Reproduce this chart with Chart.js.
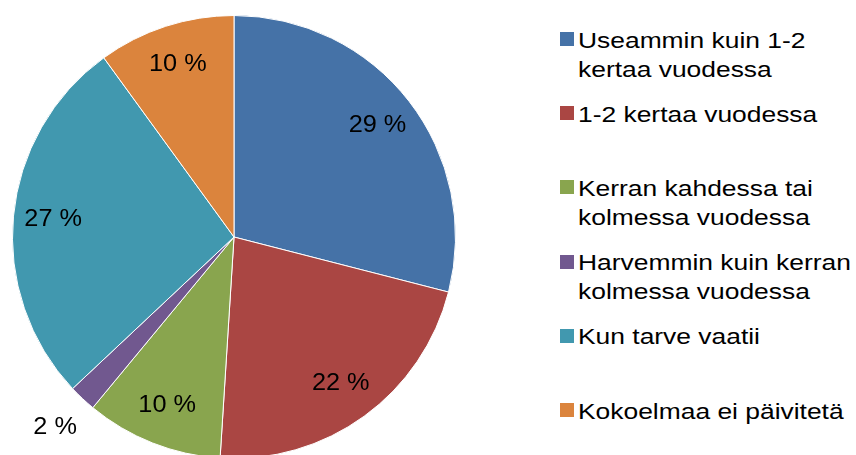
<!DOCTYPE html>
<html>
<head>
<meta charset="utf-8">
<script src="https://cdn.jsdelivr.net/npm/chart.js@4/dist/chart.umd.min.js"></script>
<style>
  html, body { margin: 0; padding: 0; background: #fff; overflow: hidden; }
  body { width: 856px; height: 455px; position: relative; font-family: "Liberation Sans", Arial, sans-serif; }
  #chartBox { position: absolute; left: 0; top: 0; width: 468px; height: 474px; }
  .item { position: absolute; left: 560px; }
  .box { position: absolute; left: 0; width: 14px; height: 14px; }
  .txt { position: absolute; left: 18px; top: 0; font-size: 22px; line-height: 29px; white-space: nowrap;
         color: #000; transform: scaleX(1.2); transform-origin: 0 0; }
</style>
</head>
<body>
<div id="chartBox"><canvas id="pieChart"></canvas></div>
<div id="legend"></div>
<script>
// categories (legend lines), values in percent, slice colours
const categories = [
    ['Useammin kuin 1-2', 'kertaa vuodessa'],
    ['1-2 kertaa vuodessa'],
    ['Kerran kahdessa tai', 'kolmessa vuodessa'],
    ['Harvemmin kuin kerran', 'kolmessa vuodessa'],
    ['Kun tarve vaatii'],
    ['Kokoelmaa ei päivitetä']
];
const values = [29, 22, 10, 2, 27, 10];
const colors = ['#4572A7', '#AA4643', '#89A54E', '#71588F', '#4198AF', '#DB843D'];

document.addEventListener('DOMContentLoaded', function() {
    // percent labels drawn on (or just outside) each slice
    const pctLabels = {
        id: 'pctLabels',
        afterDatasetsDraw(chart) {
            const ctx = chart.ctx;
            const meta = chart.getDatasetMeta(0);
            ctx.save();
            ctx.fillStyle = '#000';
            ctx.font = '23px "Liberation Sans", Arial, sans-serif';
            ctx.textAlign = 'center';
            ctx.textBaseline = 'middle';
            meta.data.forEach((arc, i) => {
                const p = arc.getProps(['x', 'y', 'startAngle', 'endAngle', 'outerRadius'], true);
                const mid = (p.startAngle + p.endAngle) / 2;
                const r = values[i] < 5 ? p.outerRadius * 1.18 : p.outerRadius * 0.82;
                const x = p.x + Math.cos(mid) * r;
                const y = p.y + Math.sin(mid) * r;
                ctx.save();
                ctx.translate(x, y);
                ctx.scale(1.1, 1);
                ctx.fillText(values[i] + ' %', 0, 0);
                ctx.restore();
            });
            ctx.restore();
        }
    };

    const ctx = document.getElementById('pieChart').getContext('2d');
    new Chart(ctx, {
        type: 'pie',
        data: {
            labels: categories.map(c => c.join(' ')),
            datasets: [{
                data: values,
                backgroundColor: colors,
                borderColor: '#ffffff',
                borderWidth: 1
            }]
        },
        options: {
            responsive: true,
            maintainAspectRatio: false,
            animation: false,
            layout: { padding: 12 },
            plugins: {
                legend: { display: false },
                tooltip: { enabled: false }
            }
        },
        plugins: [pctLabels]
    });

    // legend on the right, built from the same arrays
    const legend = document.getElementById('legend');
    categories.forEach((lines, i) => {
        const item = document.createElement('div');
        item.className = 'item';
        item.style.top = (40 + i * 74.2 - 14.5) + 'px';
        const box = document.createElement('div');
        box.className = 'box';
        box.style.top = '6.5px';
        box.style.background = colors[i];
        const txt = document.createElement('div');
        txt.className = 'txt';
        txt.innerHTML = lines.join('<br>');
        item.appendChild(box);
        item.appendChild(txt);
        legend.appendChild(item);
    });
});
</script>
</body>
</html>
